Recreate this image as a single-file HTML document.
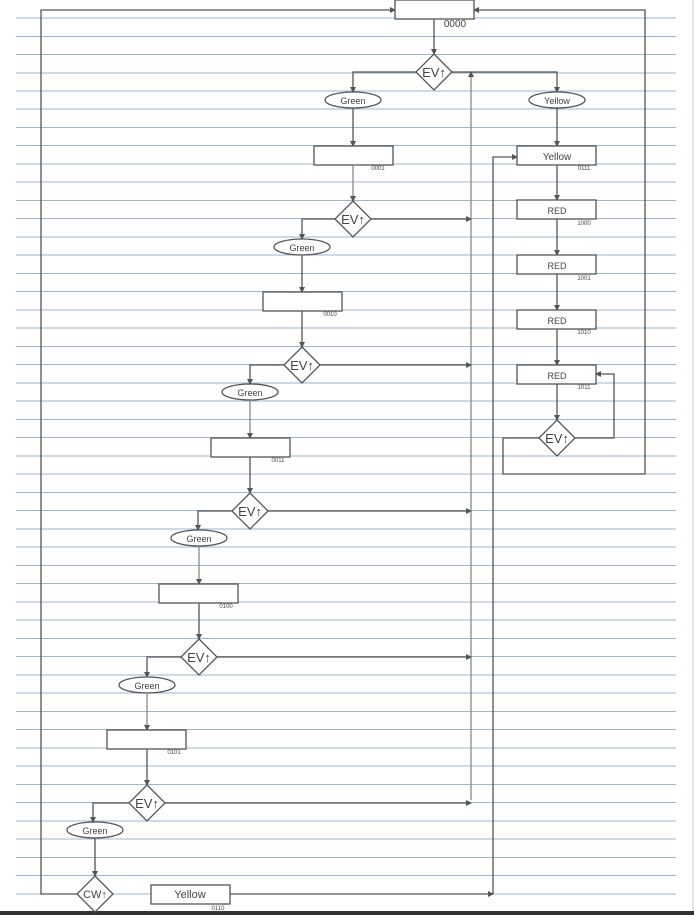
<!DOCTYPE html>
<html><head><meta charset="utf-8"><style>
html,body{margin:0;padding:0;background:#fff;}
svg{display:block;}
text{font-family:"Liberation Sans",sans-serif;fill:#444;}
</style></head><body>
<svg width="694" height="915" viewBox="0 0 694 915" xmlns="http://www.w3.org/2000/svg">
<defs>
<marker id="a" markerWidth="6" markerHeight="6" refX="5" refY="3" orient="auto" markerUnits="userSpaceOnUse"><path d="M0,0 L6,3 L0,6 z" fill="#555"/></marker>
</defs>
<rect width="694" height="915" fill="#fff"/>
<g stroke="#9fb3d6" stroke-width="1">
<line x1="16" y1="18" x2="676" y2="18"/><line x1="16" y1="36.5" x2="676" y2="36.5"/><line x1="16" y1="54.5" x2="676" y2="54.5"/><line x1="16" y1="73" x2="676" y2="73"/><line x1="16" y1="91" x2="676" y2="91"/><line x1="16" y1="109" x2="676" y2="109"/><line x1="16" y1="127.5" x2="676" y2="127.5"/><line x1="16" y1="145.5" x2="676" y2="145.5"/><line x1="16" y1="164" x2="676" y2="164"/><line x1="16" y1="182" x2="676" y2="182"/><line x1="16" y1="200.5" x2="676" y2="200.5"/><line x1="16" y1="218.5" x2="676" y2="218.5"/><line x1="16" y1="237" x2="676" y2="237"/><line x1="16" y1="255" x2="676" y2="255"/><line x1="16" y1="273.5" x2="676" y2="273.5"/><line x1="16" y1="291.5" x2="676" y2="291.5"/><line x1="16" y1="310" x2="676" y2="310"/><line x1="16" y1="328" x2="676" y2="328"/><line x1="16" y1="346.5" x2="676" y2="346.5"/><line x1="16" y1="364.5" x2="676" y2="364.5"/><line x1="16" y1="383" x2="676" y2="383"/><line x1="16" y1="401" x2="676" y2="401"/><line x1="16" y1="419.5" x2="676" y2="419.5"/><line x1="16" y1="437.5" x2="676" y2="437.5"/><line x1="16" y1="456" x2="676" y2="456"/><line x1="16" y1="474" x2="676" y2="474"/><line x1="16" y1="492.5" x2="676" y2="492.5"/><line x1="16" y1="510.5" x2="676" y2="510.5"/><line x1="16" y1="529" x2="676" y2="529"/><line x1="16" y1="547" x2="676" y2="547"/><line x1="16" y1="565.5" x2="676" y2="565.5"/><line x1="16" y1="583.5" x2="676" y2="583.5"/><line x1="16" y1="602" x2="676" y2="602"/><line x1="16" y1="620" x2="676" y2="620"/><line x1="16" y1="638.5" x2="676" y2="638.5"/><line x1="16" y1="656.5" x2="676" y2="656.5"/><line x1="16" y1="675" x2="676" y2="675"/><line x1="16" y1="693" x2="676" y2="693"/><line x1="16" y1="711.5" x2="676" y2="711.5"/><line x1="16" y1="729.5" x2="676" y2="729.5"/><line x1="16" y1="748" x2="676" y2="748"/><line x1="16" y1="766" x2="676" y2="766"/><line x1="16" y1="784.5" x2="676" y2="784.5"/><line x1="16" y1="802.5" x2="676" y2="802.5"/><line x1="16" y1="821" x2="676" y2="821"/><line x1="16" y1="839" x2="676" y2="839"/><line x1="16" y1="857.5" x2="676" y2="857.5"/><line x1="16" y1="875.5" x2="676" y2="875.5"/><line x1="16" y1="894" x2="676" y2="894"/>
</g>
<line x1="693" y1="0" x2="693" y2="912" stroke="#ccc"/>
<rect x="0" y="911" width="694" height="4" fill="#333"/>

<g stroke="#555" stroke-width="1.3" fill="none">
<!-- outer loops -->
<polyline points="77,894 41,894 41,10 395,10" marker-end="url(#a)"/>
<polyline points="503,438 503,474 645,474 645,10 474,10" marker-end="url(#a)"/>
<polyline points="230,894 493,894" marker-end="url(#a)"/>
<polyline points="493,894 493,157 517,157" marker-end="url(#a)"/>
<line x1="471" y1="800" x2="471" y2="72" stroke="#888" marker-end="url(#a)"/>

<!-- top -->
<rect x="395" y="0" width="79" height="19" fill="#fff"/>
<line x1="434" y1="19" x2="434" y2="54" marker-end="url(#a)"/>
<polygon points="434,54 452,72 434,90 416,72" fill="#fff"/>
<polyline points="416,72 353,72 353,92" marker-end="url(#a)"/>
<polyline points="452,72 557,72 557,92" marker-end="url(#a)"/>
<ellipse cx="353" cy="100" rx="28" ry="8" fill="#fff"/>
<ellipse cx="557" cy="100" rx="28" ry="8" fill="#fff"/>
<line x1="353" y1="108" x2="353" y2="146" marker-end="url(#a)"/>
<line x1="557" y1="108" x2="557" y2="146" marker-end="url(#a)"/>

<!-- right column -->
<rect x="517" y="146" width="79" height="19" fill="#fff"/>
<line x1="557" y1="165" x2="557" y2="200" marker-end="url(#a)"/>
<rect x="517" y="200" width="79" height="19" fill="#fff"/>
<line x1="557" y1="219" x2="557" y2="255" marker-end="url(#a)"/>
<rect x="517" y="255" width="79" height="19" fill="#fff"/>
<line x1="557" y1="274" x2="557" y2="310" marker-end="url(#a)"/>
<rect x="517" y="310" width="79" height="19" fill="#fff"/>
<line x1="557" y1="329" x2="557" y2="365" marker-end="url(#a)"/>
<rect x="517" y="365" width="79" height="19" fill="#fff"/>
<line x1="557" y1="384" x2="557" y2="420" marker-end="url(#a)"/>
<polyline points="575,438 614,438 614,374 596,374" marker-end="url(#a)"/>
<line x1="539" y1="438" x2="503" y2="438"/>
<polygon points="557,420 575,438 557,456 539,438" fill="#fff"/>

<!-- stage 1 -->
<rect x="314" y="146" width="79" height="19" fill="#fff"/>
<line x1="353" y1="165" x2="353" y2="201" stroke="#888" marker-end="url(#a)"/>
<polyline points="371,219 471,219" marker-end="url(#a)"/>
<polyline points="335,219 302,219 302,239" marker-end="url(#a)"/>
<polygon points="353,201 371,219 353,237 335,219" fill="#fff"/>
<ellipse cx="302" cy="247" rx="28" ry="8" fill="#fff"/>
<line x1="302" y1="255" x2="302" y2="292" marker-end="url(#a)"/>
<!-- stage 2 -->
<rect x="263" y="292" width="79" height="19" fill="#fff"/>
<line x1="302" y1="311" x2="302" y2="347" marker-end="url(#a)"/>
<polyline points="320,365 471,365" marker-end="url(#a)"/>
<polyline points="284,365 250,365 250,384" marker-end="url(#a)"/>
<polygon points="302,347 320,365 302,383 284,365" fill="#fff"/>
<ellipse cx="250" cy="392" rx="28" ry="8" fill="#fff"/>
<line x1="250" y1="400" x2="250" y2="438" stroke="#888" marker-end="url(#a)"/>
<!-- stage 3 -->
<rect x="211" y="438" width="79" height="19" fill="#fff"/>
<line x1="250" y1="457" x2="250" y2="493" marker-end="url(#a)"/>
<polyline points="268,511 471,511" marker-end="url(#a)"/>
<polyline points="232,511 198,511 198,530" marker-end="url(#a)"/>
<polygon points="250,493 268,511 250,529 232,511" fill="#fff"/>
<ellipse cx="199" cy="538" rx="28" ry="8" fill="#fff"/>
<line x1="199" y1="546" x2="199" y2="584" stroke="#888" marker-end="url(#a)"/>
<!-- stage 4 -->
<rect x="159" y="584" width="79" height="19" fill="#fff"/>
<line x1="199" y1="603" x2="199" y2="639" marker-end="url(#a)"/>
<polyline points="217,657 471,657" marker-end="url(#a)"/>
<polyline points="181,657 147,657 147,677" marker-end="url(#a)"/>
<polygon points="199,639 217,657 199,675 181,657" fill="#fff"/>
<ellipse cx="147" cy="685" rx="28" ry="8" fill="#fff"/>
<line x1="147" y1="693" x2="147" y2="730" stroke="#888" marker-end="url(#a)"/>
<!-- stage 5 -->
<rect x="107" y="730" width="79" height="19" fill="#fff"/>
<line x1="147" y1="749" x2="147" y2="785" marker-end="url(#a)"/>
<polyline points="165,803 471,803" marker-end="url(#a)"/>
<polyline points="129,803 93,803 93,822" marker-end="url(#a)"/>
<polygon points="147,785 165,803 147,821 129,803" fill="#fff"/>
<ellipse cx="95" cy="830" rx="28" ry="8" fill="#fff"/>
<line x1="95" y1="838" x2="95" y2="876" marker-end="url(#a)"/>
<!-- CW -->
<polygon points="95,876 113,894 95,912 77,894" fill="#fff"/>
<rect x="151" y="885" width="79" height="19" fill="#fff"/>
</g>

<g font-size="11" text-anchor="middle">
<text x="434" y="77" font-size="13">EV↑</text>
<text x="353" y="224" font-size="13">EV↑</text>
<text x="302" y="370" font-size="13">EV↑</text>
<text x="250" y="516" font-size="13">EV↑</text>
<text x="199" y="662" font-size="13">EV↑</text>
<text x="147" y="808" font-size="13">EV↑</text>
<text x="557" y="443" font-size="13">EV↑</text>
<text x="95" y="898" font-size="11">CW↑</text>
<text x="353" y="104" font-size="9">Green</text>
<text x="302" y="251" font-size="9">Green</text>
<text x="250" y="396" font-size="9">Green</text>
<text x="199" y="542" font-size="9">Green</text>
<text x="147" y="689" font-size="9">Green</text>
<text x="95" y="834" font-size="9">Green</text>
<text x="557" y="104" font-size="9">Yellow</text>
<text x="557" y="160" font-size="10">Yellow</text>
<text x="190" y="898" font-size="11">Yellow</text>
<text x="557" y="214" font-size="9">RED</text>
<text x="557" y="269" font-size="9">RED</text>
<text x="557" y="324" font-size="9">RED</text>
<text x="557" y="379" font-size="9">RED</text>
<text x="455" y="27" font-size="10">0000</text>
<g font-size="6">
<text x="378" y="170">0001</text>
<text x="330" y="316">0010</text>
<text x="278" y="462">0011</text>
<text x="226" y="608">0100</text>
<text x="174" y="754">0101</text>
<text x="218" y="910">0110</text>
<text x="584" y="170">0111</text>
<text x="584" y="225">1000</text>
<text x="584" y="280">1001</text>
<text x="584" y="334">1010</text>
<text x="584" y="389">1011</text>
</g>
</g>
</svg>
</body></html>
